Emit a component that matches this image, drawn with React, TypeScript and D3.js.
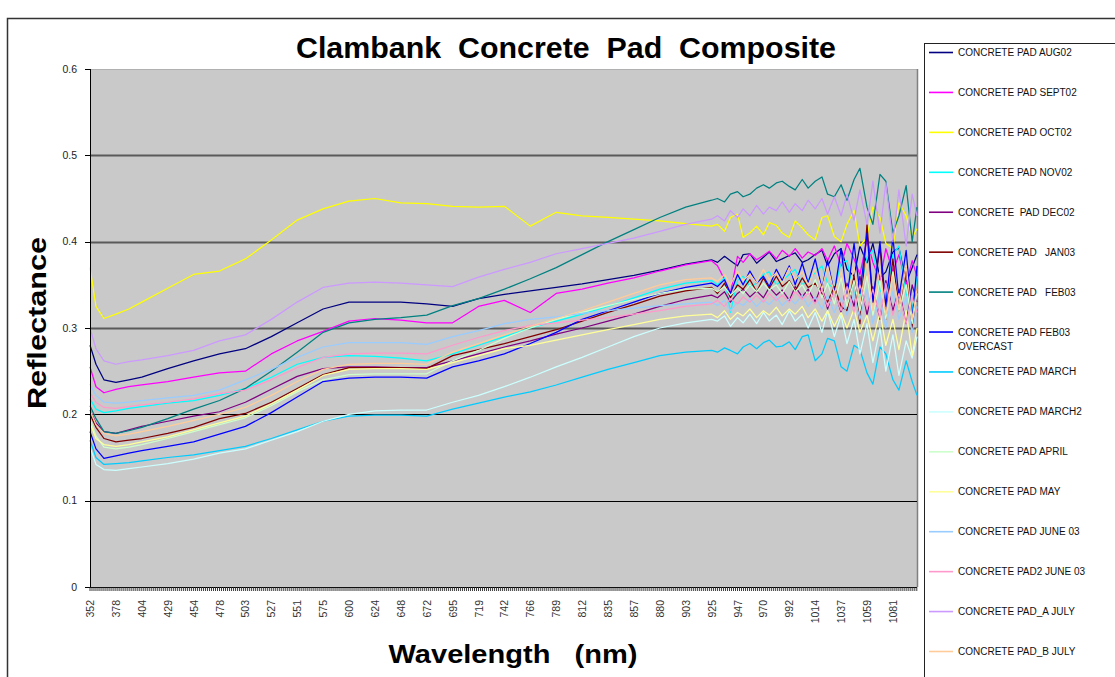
import React, { useEffect, useRef } from "react";
import * as d3 from "d3";

// category axis labels (nm) as printed under the x axis
const tickLabels = [352, 378, 404, 429, 454, 478, 503, 527, 551, 575, 600, 624, 648, 672, 695, 719, 742, 766, 789, 812, 835, 857, 880, 903, 925, 947, 970, 992, 1014, 1037, 1059, 1081];
const lastWavelength = 1101;

// sample wavelengths shared by all series
const wavelengths = [352, 358, 366, 378, 391, 404, 429, 454, 478, 503, 527, 551, 575, 600, 624, 648, 672, 695, 719, 742, 766, 789, 812, 835, 857, 880, 903, 925,
  930, 936, 941, 947, 952, 958, 964, 970, 975, 981, 986, 992, 997, 1003, 1008, 1014, 1020, 1025, 1031, 1037, 1042, 1048, 1053, 1059, 1064, 1070, 1075, 1081, 1086, 1092, 1097, 1101];

const aug02 = [0.280, 0.258, 0.240, 0.237, 0.240, 0.243, 0.253, 0.262, 0.270, 0.276, 0.290, 0.306, 0.322, 0.330, 0.330, 0.330, 0.328, 0.325, 0.334, 0.339, 0.343, 0.347, 0.351, 0.356, 0.361, 0.367, 0.374, 0.379,
  0.376, 0.383, 0.378, 0.372, 0.385, 0.386, 0.375, 0.382, 0.388, 0.377, 0.380, 0.384, 0.387, 0.376, 0.379, 0.385, 0.390, 0.372, 0.386, 0.392, 0.368, 0.360, 0.395, 0.375, 0.398, 0.358, 0.365, 0.388, 0.393, 0.352, 0.370, 0.385];
const sept02 = [0.255, 0.232, 0.225, 0.229, 0.232, 0.234, 0.238, 0.243, 0.248, 0.250, 0.270, 0.285, 0.296, 0.308, 0.311, 0.309, 0.306, 0.306, 0.325, 0.332, 0.318, 0.340, 0.345, 0.352, 0.358, 0.366, 0.373, 0.378,
  0.372, 0.356, 0.340, 0.383, 0.376, 0.386, 0.379, 0.384, 0.389, 0.380, 0.390, 0.383, 0.392, 0.381, 0.388, 0.384, 0.392, 0.378, 0.395, 0.372, 0.398, 0.380, 0.362, 0.402, 0.376, 0.355, 0.392, 0.365, 0.385, 0.350, 0.378, 0.360];
const oct02 = [0.370, 0.325, 0.311, 0.316, 0.322, 0.330, 0.346, 0.362, 0.366, 0.380, 0.402, 0.425, 0.438, 0.447, 0.450, 0.445, 0.444, 0.441, 0.440, 0.441, 0.418, 0.434, 0.430, 0.428, 0.426, 0.424, 0.421, 0.418,
  0.420, 0.412, 0.428, 0.432, 0.405, 0.410, 0.418, 0.408, 0.422, 0.419, 0.410, 0.405, 0.424, 0.416, 0.408, 0.402, 0.428, 0.430, 0.406, 0.400, 0.420, 0.436, 0.395, 0.405, 0.440, 0.428, 0.398, 0.392, 0.445, 0.430, 0.405, 0.415];
const nov02 = [0.218, 0.206, 0.202, 0.204, 0.207, 0.209, 0.213, 0.216, 0.222, 0.230, 0.243, 0.258, 0.266, 0.268, 0.267, 0.265, 0.262, 0.270, 0.280, 0.290, 0.300, 0.308, 0.316, 0.325, 0.335, 0.345, 0.352, 0.355,
  0.350, 0.358, 0.318, 0.355, 0.360, 0.348, 0.352, 0.362, 0.365, 0.350, 0.355, 0.362, 0.368, 0.350, 0.356, 0.364, 0.372, 0.352, 0.345, 0.375, 0.378, 0.340, 0.335, 0.382, 0.390, 0.345, 0.330, 0.385, 0.395, 0.340, 0.320, 0.360];
const dec02 = [0.205, 0.190, 0.180, 0.178, 0.182, 0.186, 0.192, 0.198, 0.203, 0.214, 0.229, 0.244, 0.253, 0.255, 0.255, 0.254, 0.254, 0.262, 0.270, 0.278, 0.285, 0.293, 0.300, 0.308, 0.316, 0.325, 0.333, 0.338,
  0.335, 0.342, 0.330, 0.340, 0.345, 0.336, 0.343, 0.335, 0.347, 0.338, 0.344, 0.332, 0.348, 0.336, 0.345, 0.330, 0.350, 0.322, 0.345, 0.318, 0.352, 0.325, 0.360, 0.315, 0.348, 0.310, 0.355, 0.320, 0.345, 0.305, 0.350, 0.330];
const jan03 = [0.200, 0.185, 0.172, 0.168, 0.170, 0.172, 0.178, 0.185, 0.195, 0.201, 0.214, 0.230, 0.246, 0.254, 0.254, 0.254, 0.253, 0.268, 0.275, 0.282, 0.290, 0.298, 0.308, 0.318, 0.327, 0.337, 0.343, 0.347,
  0.340, 0.352, 0.335, 0.350, 0.345, 0.356, 0.342, 0.358, 0.346, 0.360, 0.348, 0.355, 0.343, 0.358, 0.347, 0.352, 0.340, 0.330, 0.348, 0.325, 0.320, 0.360, 0.305, 0.420, 0.330, 0.395, 0.310, 0.380, 0.320, 0.370, 0.300, 0.345];
const feb03 = [0.210, 0.195, 0.180, 0.178, 0.181, 0.185, 0.195, 0.206, 0.216, 0.230, 0.250, 0.272, 0.295, 0.306, 0.310, 0.312, 0.315, 0.326, 0.334, 0.345, 0.357, 0.370, 0.385, 0.400, 0.414, 0.428, 0.440, 0.448,
  0.450, 0.446, 0.455, 0.458, 0.452, 0.455, 0.462, 0.466, 0.462, 0.468, 0.470, 0.464, 0.460, 0.472, 0.462, 0.470, 0.475, 0.455, 0.452, 0.466, 0.448, 0.472, 0.485, 0.440, 0.420, 0.478, 0.470, 0.410, 0.430, 0.465, 0.400, 0.440];
const feb03Overcast = [0.180, 0.160, 0.149, 0.152, 0.155, 0.158, 0.163, 0.168, 0.177, 0.186, 0.202, 0.220, 0.238, 0.242, 0.243, 0.243, 0.242, 0.255, 0.262, 0.270, 0.282, 0.295, 0.310, 0.320, 0.330, 0.340, 0.347, 0.352,
  0.348, 0.356, 0.340, 0.362, 0.350, 0.366, 0.352, 0.360, 0.348, 0.368, 0.355, 0.372, 0.350, 0.375, 0.352, 0.380, 0.345, 0.378, 0.340, 0.392, 0.335, 0.398, 0.340, 0.410, 0.330, 0.400, 0.325, 0.405, 0.335, 0.390, 0.310, 0.372];
const march = [0.170, 0.150, 0.142, 0.143, 0.144, 0.146, 0.150, 0.153, 0.158, 0.163, 0.172, 0.182, 0.192, 0.198, 0.199, 0.199, 0.198, 0.206, 0.213, 0.220, 0.226, 0.234, 0.243, 0.252, 0.260, 0.268, 0.272, 0.274,
  0.272, 0.277, 0.274, 0.270, 0.278, 0.282, 0.276, 0.283, 0.286, 0.278, 0.279, 0.284, 0.275, 0.290, 0.292, 0.262, 0.270, 0.288, 0.285, 0.255, 0.250, 0.280, 0.275, 0.248, 0.235, 0.278, 0.270, 0.240, 0.228, 0.262, 0.238, 0.222];
const march2 = [0.162, 0.142, 0.136, 0.135, 0.137, 0.139, 0.143, 0.148, 0.155, 0.160, 0.170, 0.180, 0.192, 0.200, 0.204, 0.205, 0.205, 0.214, 0.222, 0.232, 0.243, 0.255, 0.266, 0.278, 0.290, 0.300, 0.306, 0.310,
  0.308, 0.314, 0.302, 0.312, 0.306, 0.316, 0.305, 0.318, 0.308, 0.315, 0.304, 0.320, 0.308, 0.316, 0.300, 0.318, 0.295, 0.320, 0.290, 0.315, 0.282, 0.310, 0.270, 0.305, 0.260, 0.300, 0.250, 0.292, 0.245, 0.285, 0.265, 0.290];
const april = [0.195, 0.175, 0.162, 0.160, 0.162, 0.165, 0.172, 0.180, 0.188, 0.196, 0.210, 0.226, 0.240, 0.246, 0.247, 0.247, 0.247, 0.262, 0.274, 0.288, 0.300, 0.310, 0.318, 0.326, 0.333, 0.340, 0.345, 0.346,
  0.342, 0.348, 0.338, 0.346, 0.340, 0.350, 0.342, 0.352, 0.344, 0.350, 0.340, 0.354, 0.342, 0.350, 0.338, 0.356, 0.335, 0.352, 0.328, 0.358, 0.325, 0.355, 0.320, 0.360, 0.315, 0.355, 0.310, 0.365, 0.320, 0.350, 0.305, 0.340];
const may = [0.190, 0.172, 0.165, 0.163, 0.165, 0.168, 0.174, 0.182, 0.190, 0.198, 0.212, 0.228, 0.245, 0.252, 0.253, 0.253, 0.252, 0.260, 0.268, 0.276, 0.280, 0.286, 0.292, 0.298, 0.304, 0.310, 0.314, 0.316,
  0.312, 0.320, 0.310, 0.318, 0.314, 0.322, 0.312, 0.320, 0.315, 0.324, 0.314, 0.322, 0.316, 0.325, 0.312, 0.322, 0.308, 0.320, 0.302, 0.318, 0.300, 0.322, 0.295, 0.315, 0.285, 0.318, 0.280, 0.310, 0.275, 0.320, 0.268, 0.300];
const june03 = [0.235, 0.222, 0.214, 0.213, 0.214, 0.216, 0.219, 0.222, 0.228, 0.240, 0.252, 0.266, 0.278, 0.283, 0.283, 0.283, 0.281, 0.290, 0.297, 0.305, 0.310, 0.313, 0.317, 0.320, 0.323, 0.326, 0.328, 0.330,
  0.326, 0.332, 0.320, 0.330, 0.326, 0.334, 0.325, 0.333, 0.327, 0.336, 0.326, 0.334, 0.328, 0.338, 0.325, 0.336, 0.322, 0.338, 0.318, 0.335, 0.315, 0.340, 0.310, 0.345, 0.305, 0.338, 0.300, 0.342, 0.310, 0.335, 0.295, 0.325];
const pad2June03 = [0.225, 0.214, 0.208, 0.207, 0.209, 0.211, 0.214, 0.218, 0.224, 0.228, 0.240, 0.254, 0.266, 0.270, 0.271, 0.271, 0.270, 0.280, 0.289, 0.297, 0.303, 0.306, 0.309, 0.312, 0.316, 0.320, 0.325, 0.328,
  0.332, 0.325, 0.334, 0.328, 0.336, 0.330, 0.338, 0.330, 0.340, 0.332, 0.338, 0.330, 0.342, 0.333, 0.340, 0.328, 0.345, 0.325, 0.342, 0.320, 0.348, 0.318, 0.350, 0.322, 0.345, 0.312, 0.352, 0.315, 0.340, 0.305, 0.335, 0.318];
const padAJuly = [0.300, 0.276, 0.262, 0.258, 0.261, 0.263, 0.268, 0.274, 0.285, 0.292, 0.310, 0.330, 0.347, 0.352, 0.353, 0.352, 0.350, 0.348, 0.359, 0.368, 0.376, 0.386, 0.392, 0.398, 0.404, 0.412, 0.420, 0.426,
  0.430, 0.424, 0.436, 0.428, 0.438, 0.430, 0.442, 0.432, 0.440, 0.436, 0.446, 0.434, 0.444, 0.436, 0.448, 0.438, 0.450, 0.432, 0.452, 0.430, 0.455, 0.425, 0.460, 0.420, 0.470, 0.410, 0.468, 0.400, 0.460, 0.395, 0.455, 0.430];
const padBJuly = [0.205, 0.188, 0.178, 0.175, 0.177, 0.180, 0.186, 0.193, 0.200, 0.208, 0.222, 0.238, 0.252, 0.258, 0.259, 0.259, 0.258, 0.272, 0.282, 0.292, 0.302, 0.311, 0.320, 0.330, 0.340, 0.350, 0.356, 0.358,
  0.354, 0.362, 0.350, 0.366, 0.355, 0.362, 0.352, 0.368, 0.356, 0.364, 0.352, 0.370, 0.356, 0.365, 0.350, 0.368, 0.345, 0.372, 0.340, 0.365, 0.335, 0.370, 0.330, 0.375, 0.320, 0.368, 0.315, 0.360, 0.322, 0.372, 0.310, 0.345];

const seriesNames = [
  "CONCRETE PAD AUG02", "CONCRETE PAD SEPT02", "CONCRETE PAD OCT02", "CONCRETE PAD NOV02",
  "CONCRETE  PAD DEC02", "CONCRETE PAD   JAN03", "CONCRETE PAD   FEB03", "CONCRETE PAD FEB03\nOVERCAST",
  "CONCRETE PAD MARCH", "CONCRETE PAD MARCH2", "CONCRETE PAD APRIL", "CONCRETE PAD MAY",
  "CONCRETE PAD JUNE 03", "CONCRETE PAD2 JUNE 03", "CONCRETE PAD_A JULY", "CONCRETE PAD_B JULY",
];
const seriesValues = [aug02, sept02, oct02, nov02, dec02, jan03, feb03, feb03Overcast, march, march2, april, may, june03, pad2June03, padAJuly, padBJuly];
const seriesColors = ["#000080", "#FF00FF", "#FFFF00", "#00FFFF", "#800080", "#800000", "#008080", "#0000FF",
  "#00CCFF", "#CCFFFF", "#CCFFCC", "#FFFF99", "#99CCFF", "#FF99CC", "#CC99FF", "#FFCC99"];
const yTicks = [0, 0.1, 0.2, 0.3, 0.4, 0.5, 0.6];

export default function App() {
  const ref = useRef<SVGSVGElement>(null);

  useEffect(() => {
    const svg = d3.select(ref.current);
    svg.selectAll("*").remove(); //clear previous render

    const left = 90, right = 917, top = 69, bottom = 587;
    const step = 25.9;
    const font = "'Liberation Sans', Arial, sans-serif";

    // category axis: tick labels are evenly spaced, so map nm piecewise
    const xDomain = [...tickLabels, lastWavelength];
    const xRange = xDomain.map((d, i) => (i < tickLabels.length ? left + i * step : right));
    const x = d3.scaleLinear().domain(xDomain).range(xRange);
    const y = d3.scaleLinear().domain([0, 0.6]).range([bottom, top]);

    // outer frame
    svg.append("path").attr("d", "M7.5,677 V18.5 H1115").attr("fill", "none").attr("stroke", "#333").attr("stroke-width", 1.5);

    // plot area
    svg.append("rect").attr("x", left).attr("y", top).attr("width", right - left).attr("height", bottom - top).attr("fill", "#c9c9c9");
    svg.append("line").attr("x1", left).attr("x2", right).attr("y1", top + 0.5).attr("y2", top + 0.5).attr("stroke", "#b0b0b0");
    svg.append("line").attr("x1", right + 0.5).attr("x2", right + 0.5).attr("y1", top).attr("y2", bottom).attr("stroke", "#808080").attr("stroke-width", 1.5);

    // gridlines
    yTicks.filter(v => v > 0 && v < 0.6).forEach(v => {
      const thick = v > 0.25;
      svg.append("line")
        .attr("x1", left).attr("x2", right)
        .attr("y1", Math.round(y(v)) + 0.5).attr("y2", Math.round(y(v)) + 0.5)
        .attr("stroke", thick ? "#5a5a5a" : "#000")
        .attr("stroke-width", thick ? 2 : 1.2);
    });

    // series
    const line = d3.line<number>()
      .x((d, i) => x(wavelengths[i]))
      .y(d => y(d));
    const lines = svg.append("g").attr("fill", "none").attr("stroke-width", 1.25).attr("stroke-linejoin", "round");
    seriesValues.forEach((vals, k) => {
      lines.append("path")
        .attr("d", line(vals.slice(0, wavelengths.length)))
        .attr("stroke", seriesColors[k]);
    });

    // y axis
    svg.append("line").attr("x1", left + 0.5).attr("x2", left + 0.5).attr("y1", top).attr("y2", bottom).attr("stroke", "#000");
    const yAxis = svg.append("g");
    yTicks.forEach(v => {
      yAxis.append("line").attr("x1", left - 5).attr("x2", left).attr("y1", Math.round(y(v)) + 0.5).attr("y2", Math.round(y(v)) + 0.5).attr("stroke", "#000");
      yAxis.append("text").attr("x", left - 13).attr("y", y(v)).attr("dy", "0.35em")
        .attr("text-anchor", "end").attr("font-family", font).attr("font-size", 10.5).attr("fill", "#222")
        .text(v === 0 ? "0" : v.toFixed(1));
    });

    // x axis with dense category ticks
    svg.append("line").attr("x1", left).attr("x2", right).attr("y1", bottom + 0.5).attr("y2", bottom + 0.5).attr("stroke", "#000");
    const sub = 13;
    const minor = d3.range(0, Math.floor((right - left) / (step / sub)) + 1).map(i => left + i * (step / sub));
    svg.append("g").selectAll("line").data(minor).join("line")
      .attr("x1", d => d).attr("x2", d => d)
      .attr("y1", bottom).attr("y2", bottom + 4)
      .attr("stroke", "#222").attr("stroke-width", 0.9);
    svg.append("g").selectAll("text").data(tickLabels).join("text")
      .attr("transform", d => `translate(${x(d) + 4},${bottom + 13}) rotate(-90)`)
      .attr("text-anchor", "end")
      .attr("font-family", font).attr("font-size", 10.5).attr("fill", "#333")
      .text(d => d);

    // titles
    svg.append("text").attr("x", 566).attr("y", 58).attr("text-anchor", "middle")
      .attr("font-family", font).attr("font-weight", "bold").attr("font-size", 29)
      .attr("textLength", 540).attr("lengthAdjust", "spacingAndGlyphs")
      .style("white-space", "pre")
      .text("Clambank  Concrete  Pad  Composite");
    svg.append("text").attr("transform", "translate(46,323) rotate(-90)").attr("text-anchor", "middle")
      .attr("font-family", font).attr("font-weight", "bold").attr("font-size", 25)
      .attr("textLength", 172).attr("lengthAdjust", "spacingAndGlyphs")
      .text("Reflectance");
    svg.append("text").attr("x", 513).attr("y", 663).attr("text-anchor", "middle")
      .attr("font-family", font).attr("font-weight", "bold").attr("font-size", 26)
      .attr("textLength", 249).attr("lengthAdjust", "spacingAndGlyphs")
      .style("white-space", "pre")
      .text("Wavelength   (nm)");

    // legend
    svg.append("rect").attr("x", 924.5).attr("y", 43.5).attr("width", 220).attr("height", 700)
      .attr("fill", "#fff").attr("stroke", "#222");
    const ly = d3.scaleLinear().domain([0, 15]).range([52.5, 651.5]);
    seriesNames.forEach((name, k) => {
      const g = svg.append("g").attr("transform", `translate(0,${ly(k)})`);
      g.append("line").attr("x1", 929).attr("x2", 953).attr("y1", 0).attr("y2", 0)
        .attr("stroke", seriesColors[k]).attr("stroke-width", 1.6);
      const t = g.append("text").attr("x", 958).attr("y", 0)
        .attr("font-family", font).attr("font-size", 10).attr("fill", "#111")
        .style("white-space", "pre");
      name.split("\n").forEach((part, j) => {
        t.append("tspan").attr("x", 958).attr("dy", j === 0 ? "0.35em" : "1.4em").text(part);
      });
    });
  }, []);

  return (
    <svg ref={ref} width={1115} height={677} style={{ position: "absolute", left: 0, top: 0, background: "#fff" }} />
  );
}
